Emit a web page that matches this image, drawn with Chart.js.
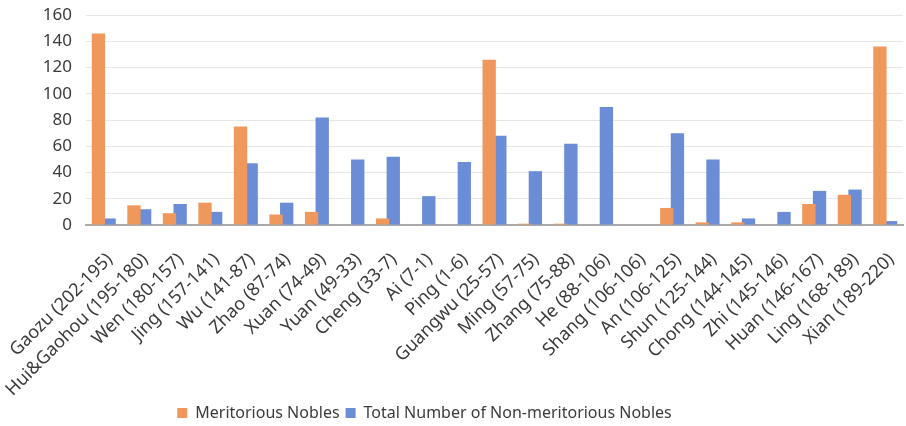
<!DOCTYPE html>
<html>
<head>
<meta charset="utf-8">
<script src="https://cdn.jsdelivr.net/npm/chart.js@4.4.0/dist/chart.umd.min.js"></script>
<style>
  body { margin: 0; background: #fff; }
  #wrap { width: 906px; height: 426px; }
</style>
</head>
<body>
<div id="wrap"><canvas id="noblesChart"></canvas></div>
<script>
// emperors and the reign years used as axis labels
const reigns = ['Gaozu (202-195)', 'Hui&Gaohou (195-180)', 'Wen (180-157)', 'Jing (157-141)',
  'Wu (141-87)', 'Zhao (87-74)', 'Xuan (74-49)', 'Yuan (49-33)', 'Cheng (33-7)', 'Ai (7-1)',
  'Ping (1-6)', 'Guangwu (25-57)', 'Ming (57-75)', 'Zhang (75-88)', 'He (88-106)',
  'Shang (106-106)', 'An (106-125)', 'Shun (125-144)', 'Chong (144-145)', 'Zhi (145-146)',
  'Huan (146-167)', 'Ling (168-189)', 'Xian (189-220)'];

const meritorious = [146, 15, 9, 17, 75, 8, 10, 0, 5, 0, 0, 126, 1, 1, 0, 0, 13, 2, 2, 0, 16, 23, 136];
const nonMeritorious = [5, 12, 16, 10, 47, 17, 82, 50, 52, 22, 48, 68, 41, 62, 90, 0, 70, 50, 5, 10, 26, 27, 3];

const yTicks = [0, 20, 40, 60, 80, 100, 120, 140, 160];

const textColor = '#3c3c3c';

// nudge the legend a bit to the left of the canvas centre
const legendShift = {
  id: 'legendShift',
  afterLayout(chart) {
    chart.legend.left -= 27;
    chart.legend.right -= 27;
  }
};

const noblesChart = new Chart(document.getElementById('noblesChart'), {
  type: 'bar',
  data: {
    labels: reigns,
    datasets: [
      { label: 'Meritorious Nobles',
        data: meritorious,
        backgroundColor: '#F0985C',
        categoryPercentage: 0.6,
        barPercentage: 1.25
      },
      { label: 'Total Number of Non-meritorious Nobles',
        data: nonMeritorious,
        backgroundColor: '#6A8DD6',
        categoryPercentage: 0.6,
        barPercentage: 1.25
      }
    ]
  },
  plugins: [legendShift],
  options: {
    responsive: true,
    maintainAspectRatio: false,
    animation: false,
    layout: { padding: { top: 15, right: 3, left: 0, bottom: -5 } },
    plugins: {
      tooltip: { enabled: false },
      legend: {
        position: 'bottom',
        labels: {
          boxWidth: 10,
          boxHeight: 10,
          padding: 6,
          color: textColor,
          font: { family: 'Noto Sans', size: 16 }
        }
      }
    },
    scales: {
      x: {
        afterFit: function(axis) {
          axis.height = 174;
          axis.paddingLeft = 0;
          axis.paddingRight = 0;
        },
        grid: { display: false, drawTicks: false },
        border: { color: '#AAAAAA', width: 2 },
        ticks: {
          color: textColor,
          minRotation: 45,
          maxRotation: 45,
          padding: 24,
          labelOffset: 6,
          autoSkip: false,
          font: { family: 'Noto Sans', size: 18 }
        }
      },
      y: {
        min: 0,
        max: 160,
        afterFit: function(axis) {
          axis.width = 86;
          axis.paddingTop = 0;
          axis.paddingBottom = 0;
        },
        afterBuildTicks: function(axis) {
          axis.ticks = yTicks.map(v => ({ value: v }));
        },
        grid: { color: '#E6E6E6', lineWidth: 1, drawTicks: false },
        border: { display: false },
        ticks: {
          color: textColor,
          padding: 14,
          font: { family: 'Noto Sans', size: 17 }
        }
      }
    }
  }
});
</script>
</body>
</html>
